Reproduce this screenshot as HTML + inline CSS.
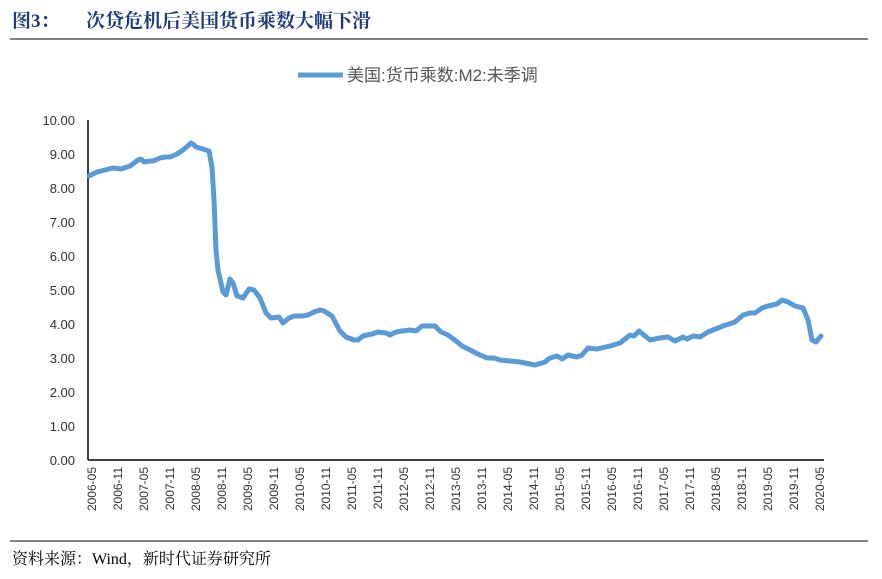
<!DOCTYPE html>
<html><head><meta charset="utf-8"><style>
body{margin:0;background:#fff;width:882px;height:574px;overflow:hidden;font-family:"Liberation Serif","Noto Serif CJK SC",serif;}
</style></head><body>
<svg width="882" height="574" xmlns="http://www.w3.org/2000/svg">
<text x="12" y="27" font-size="19" font-weight="bold" fill="#1f3a7a" font-family="Liberation Serif,Noto Serif CJK SC,serif">图3：</text>
<text x="86" y="27" font-size="19" font-weight="bold" fill="#1f3a7a" font-family="Liberation Serif,Noto Serif CJK SC,serif">次贷危机后美国货币乘数大幅下滑</text>
<line x1="10" y1="39" x2="868" y2="39" stroke="#000" stroke-width="1"/>
<line x1="298" y1="75" x2="343" y2="75" stroke="#5b9bd5" stroke-width="5"/>
<text x="347" y="81" font-size="17" fill="#555" font-family="Liberation Sans,Noto Sans CJK SC,sans-serif">美国:货币乘数:M2:未季调</text>
<g font-size="13" fill="#333" text-anchor="end" font-family="Liberation Sans,sans-serif">
<text x="75" y="125">10.00</text><text x="75" y="159">9.00</text><text x="75" y="193">8.00</text><text x="75" y="227">7.00</text><text x="75" y="261">6.00</text><text x="75" y="295">5.00</text><text x="75" y="329">4.00</text><text x="75" y="363">3.00</text><text x="75" y="397">2.00</text><text x="75" y="431">1.00</text><text x="75" y="465">0.00</text>
</g>
<line x1="88" y1="120" x2="88" y2="460" stroke="#000" stroke-width="1.5"/>
<line x1="88" y1="460" x2="824" y2="460" stroke="#000" stroke-width="1.5"/>
<polyline fill="none" stroke="#5b9bd5" stroke-width="5" stroke-linejoin="round" stroke-linecap="round" points="89,176 97,172 105,170 113,168 121,169 130,166 138,160 141,159 144,162 150,161 153,161 160,158 165,157 170,157 177,154 183,150 190,144 191,143 194,145 196,147 203,149 206,150 209,151 212,167 214,200 216,250 218,270 223,292 226,295 230,279 233,283 237,296 243,298 249,289 254,290 260,298 266,313 271,318 279,317 283,323 289,318 294,316 302,316 308,315 314,312 320,310 324,311 332,316 340,331 346,337 354,340 358,340 363,336 372,334 378,332 386,333 390,335 396,332 402,331 410,330 416,331 422,326 435,326 441,332 448,335 456,341 462,346 470,350 480,355 487,358 494,358 500,360 510,361 520,362 530,364 535,365 545,362 550,358 557,356 562,359 568,355 577,357 582,355 588,348 597,349 610,346 620,343 630,335 634,336 639,331 650,340 660,338 668,337 675,341 683,337 687,339 693,336 700,337 708,332 723,326 735,322 743,315 750,313 755,313 762,308 768,306 777,304 782,300 788,302 795,306 803,308 808,320 812,340 816,342 821,336"/>
<g font-size="12" fill="#333" font-family="Liberation Sans,sans-serif" text-anchor="end">
<text transform="translate(96,467) rotate(-90)">2006-05</text>
<text transform="translate(122,467) rotate(-90)">2006-11</text>
<text transform="translate(148,467) rotate(-90)">2007-05</text>
<text transform="translate(174,467) rotate(-90)">2007-11</text>
<text transform="translate(200,467) rotate(-90)">2008-05</text>
<text transform="translate(226,467) rotate(-90)">2008-11</text>
<text transform="translate(252,467) rotate(-90)">2009-05</text>
<text transform="translate(278,467) rotate(-90)">2009-11</text>
<text transform="translate(304,467) rotate(-90)">2010-05</text>
<text transform="translate(330,467) rotate(-90)">2010-11</text>
<text transform="translate(356,467) rotate(-90)">2011-05</text>
<text transform="translate(382,467) rotate(-90)">2011-11</text>
<text transform="translate(408,467) rotate(-90)">2012-05</text>
<text transform="translate(434,467) rotate(-90)">2012-11</text>
<text transform="translate(460,467) rotate(-90)">2013-05</text>
<text transform="translate(486,467) rotate(-90)">2013-11</text>
<text transform="translate(512,467) rotate(-90)">2014-05</text>
<text transform="translate(538,467) rotate(-90)">2014-11</text>
<text transform="translate(564,467) rotate(-90)">2015-05</text>
<text transform="translate(590,467) rotate(-90)">2015-11</text>
<text transform="translate(616,467) rotate(-90)">2016-05</text>
<text transform="translate(642,467) rotate(-90)">2016-11</text>
<text transform="translate(668,467) rotate(-90)">2017-05</text>
<text transform="translate(694,467) rotate(-90)">2017-11</text>
<text transform="translate(720,467) rotate(-90)">2018-05</text>
<text transform="translate(746,467) rotate(-90)">2018-11</text>
<text transform="translate(772,467) rotate(-90)">2019-05</text>
<text transform="translate(798,467) rotate(-90)">2019-11</text>
<text transform="translate(824,467) rotate(-90)">2020-05</text>
</g>
<line x1="10" y1="541" x2="868" y2="541" stroke="#000" stroke-width="1"/>
<text x="12" y="564" font-size="16" fill="#000" font-family="Liberation Serif,Noto Serif CJK SC,serif">资料来源：Wind，新时代证券研究所</text>
</svg>
</body></html>
